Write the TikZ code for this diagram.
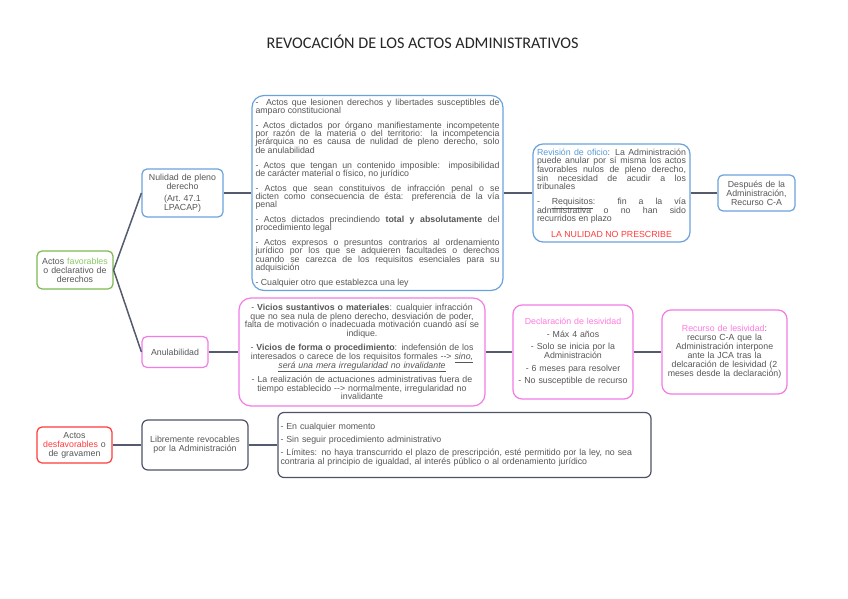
\documentclass[tikz,border=0pt]{standalone}
\usepackage{fontspec}
\setmainfont{Liberation Sans}
\newfontfamily\titlefont{Carlito}
\definecolor{bluec}{HTML}{6AA2DC}
\definecolor{bluet}{HTML}{5B9BD5}
\definecolor{greenc}{HTML}{7DBA4F}
\definecolor{greent}{HTML}{8CC868}
\definecolor{pinkc}{HTML}{F27BE6}
\definecolor{pinkt}{HTML}{FF79E0}
\definecolor{redc}{HTML}{FF3B3B}
\definecolor{slatec}{HTML}{4D5468}
\definecolor{linec}{HTML}{555B6E}
\definecolor{txt}{HTML}{575757}
\newcommand\boxset{\hyphenpenalty=10000 \exhyphenpenalty=10000 \tolerance=10000 \lineskiplimit=-20pt \lineskip=0pt }
\newcommand\boxfont{\fontsize{8.8pt}{9pt}\selectfont\boxset}
\newcommand\tightfont{\fontsize{8.8pt}{8.3pt}\selectfont\boxset}
\newcommand\midfont{\fontsize{8.8pt}{8.6pt}\selectfont\boxset}
\begin{document}
\begin{tikzpicture}[x=1pt,y=-1pt,
  box/.style={draw, line width=1.2pt, inner sep=0pt, text=txt, font=\boxfont, rounded corners=5pt, align=center},
  bluebox/.style={box, draw=bluec},
  pinkbox/.style={box, draw=pinkc},
  greenbox/.style={box, draw=greenc},
  redbox/.style={box, draw=redc},
  slatebox/.style={box, draw=slatec},
  conn/.style={draw=linec, line width=1.5pt}
]
\useasboundingbox[fill=white] (0,0) rectangle (848,599);

\node[font=\titlefont\fontsize{16.2pt}{19pt}\selectfont, text=black!85, inner sep=0pt] (title) at (422.5,42) {REVOCACIÓN DE LOS ACTOS ADMINISTRATIVOS};

\node[greenbox, minimum width=76pt, minimum height=38pt, text width=72pt] (A) at (75,270)
  {Actos \textcolor{greent}{favorables}\\o declarativo de\\derechos};

\node[bluebox, minimum width=81pt, minimum height=48pt, text width=76pt] (B) at (182.5,193)
  {Nulidad de pleno\\derecho\\[3pt](Art.\ 47.1\\LPACAP)};

\node[bluebox, rounded corners=12pt, minimum width=251pt, minimum height=195pt, text width=244pt, align=justify, font=\tightfont] (C) at (377.5,193)
  {-\ \ Actos que lesionen derechos y libertades susceptibles de\linebreak amparo constitucional\\[6.5pt]
  - Actos dictados por órgano manifiestamente incompetente\linebreak por razón de la materia o del territorio: la incompetencia\linebreak jerárquica no es causa de nulidad de pleno derecho, solo\linebreak de anulabilidad\\[6.5pt]
  - Actos que tengan un contenido imposible: imposibilidad\linebreak de carácter material o físico, no jurídico\\[6.5pt]
  - Actos que sean constituivos de infracción penal o se\linebreak dicten como consecuencia de ésta: preferencia de la vía\linebreak penal\\[6.5pt]
  - Actos dictados precindiendo \textbf{total y absolutamente} del\linebreak procedimiento legal\\[6.5pt]
  - Actos expresos o presuntos contrarios al ordenamiento\linebreak jurídico por los que se adquieren facultades o derechos\linebreak cuando se carezca de los requisitos esenciales para su\linebreak adquisición\\[6.5pt]
  - Cualquier otro que establezca una ley};

\node[bluebox, rounded corners=10pt, minimum width=157pt, minimum height=98pt, text width=149pt, align=justify, font=\midfont] (D) at (611.5,193)
  {\textcolor{bluet}{Revisión de oficio}: La Administración\linebreak puede anular por sí misma los actos\linebreak favorables nulos de pleno derecho,\linebreak sin necesidad de acudir a los\linebreak tribunales\\[6.5pt]
  - \underline{Requisitos}: fin a la vía\linebreak administrativa o no han sido\linebreak recurridos en plazo\\[6.5pt]
  \makebox[\linewidth]{\textcolor{redc}{LA NULIDAD NO PRESCRIBE}}};

\node[bluebox, minimum width=77pt, minimum height=36pt, text width=74pt] (E) at (756.5,193)
  {Después de la\\Administración,\\Recurso C-A};

\node[pinkbox, minimum width=66pt, minimum height=31pt, text width=62pt] (F) at (175,352)
  {Anulabilidad};

\node[pinkbox, rounded corners=12pt, minimum width=246pt, minimum height=108pt, text width=242pt, font=\midfont] (G) at (362,352)
  {- \textbf{Vicios sustantivos o materiales}: cualquier infracción\\
  que no sea nula de pleno derecho, desviación de poder,\\
  falta de motivación o inadecuada motivación cuando así se\\
  indique.\\[6pt]
  - \textbf{Vicios de forma o procedimiento}: indefensión de los\\
  interesados o carece de los requisitos formales -{}-> \underline{\textit{sino,}}\\
  \underline{\textit{será una mera irregularidad no invalidante}}\\[6pt]
  - La realización de actuaciones administrativas fuera de\\
  tiempo establecido -{}-> normalmente, irregularidad no\\
  invalidante};

\node[pinkbox, rounded corners=9pt, minimum width=120pt, minimum height=94pt, text width=116pt] (H) at (573,352)
  {\textcolor{pinkt}{Declaración de lesividad}\\[3.5pt]
  - Máx 4 años\\[3.5pt]
  - Solo se inicia por la\\Administración\\[3.5pt]
  - 6 meses para resolver\\[3.5pt]
  - No susceptible de recurso};

\node[pinkbox, rounded corners=9pt, minimum width=125pt, minimum height=84pt, text width=121pt] (I) at (724.5,352)
  {\textcolor{pinkt}{Recurso de lesividad}:\\
  recurso C-A que la\\
  Administración interpone\\
  ante la JCA tras la\\
  delcaración de lesividad (2\\
  meses desde la declaración)};

\node[redbox, minimum width=75pt, minimum height=36pt, text width=72pt] (J) at (74.5,445)
  {Actos\\\textcolor{redc}{desfavorables} o\\de gravamen};

\node[slatebox, rounded corners=6pt, minimum width=106pt, minimum height=50pt, text width=102pt] (K) at (195,445)
  {Libremente revocables\\por la Administración};

\node[slatebox, rounded corners=6pt, minimum width=373pt, minimum height=65pt, text width=368pt, align=left] (L) at (464.5,445)
  {- En cualquier momento\\[4pt]
  - Sin seguir procedimiento administrativo\\[4pt]
  - Límites: no haya transcurrido el plazo de prescripción, esté permitido por la ley, no sea\\
  contraria al principio de igualdad, al interés público o al ordenamiento jurídico};

\draw[conn] (A.east) -- (B.west);
\draw[conn] (A.east) -- (F.west);
\draw[conn] (B.east) -- (C.west);
\draw[conn] (C.east) -- (D.west);
\draw[conn] (D.east) -- (E.west);
\draw[conn] (F.east) -- (G.west);
\draw[conn] (G.east) -- (H.west);
\draw[conn] (H.east) -- (I.west);
\draw[conn] (J.east) -- (K.west);
\draw[conn] (K.east) -- (L.west);
\end{tikzpicture}
\end{document}
